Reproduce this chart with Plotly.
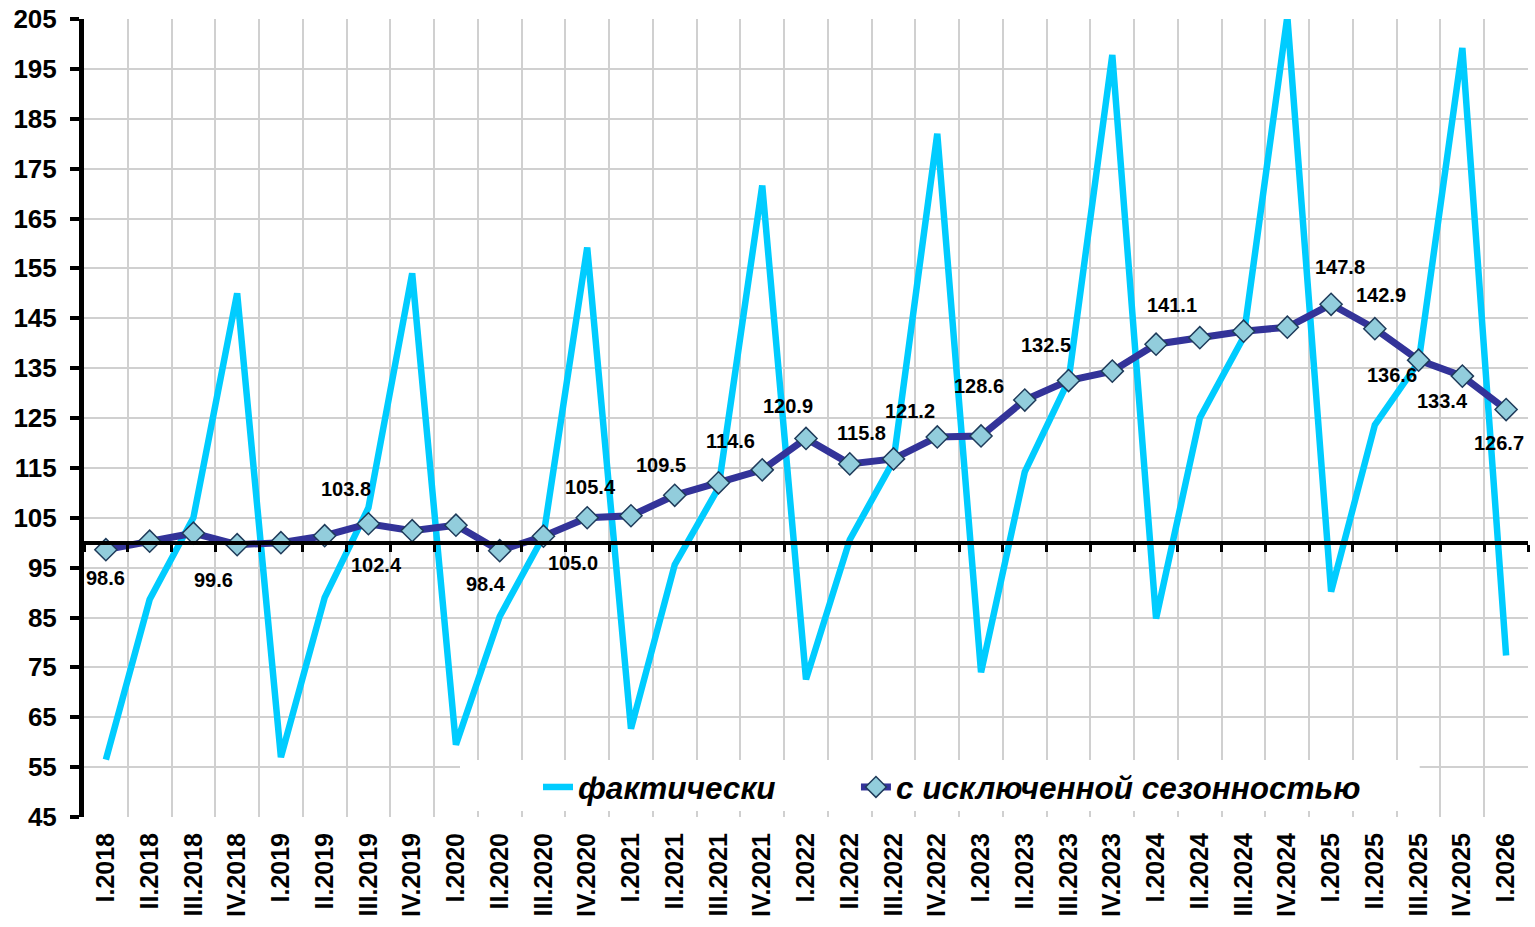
import plotly.graph_objects as go

quarters = ["I.2018", "II.2018", "III.2018", "IV.2018",
            "I.2019", "II.2019", "III.2019", "IV.2019",
            "I.2020", "II.2020", "III.2020", "IV.2020",
            "I.2021", "II.2021", "III.2021", "IV.2021",
            "I.2022", "II.2022", "III.2022", "IV.2022",
            "I.2023", "II.2023", "III.2023", "IV.2023",
            "I.2024", "II.2024", "III.2024", "IV.2024",
            "I.2025", "II.2025", "III.2025", "IV.2025",
            "I.2026"]

actual = [56.5, 88.6, 105.0, 150.0,
          57.0, 89.0, 107.0, 154.0,
          59.5, 85.2, 101.3, 159.2,
          62.7, 95.6, 111.0, 171.6,
          72.6, 100.6, 116.4, 182.0,
          74.0, 114.2, 132.5, 197.8,
          84.8, 125.0, 141.2, 205.5,
          90.2, 123.6, 136.2, 199.2,
          77.4]

seasonally_adj = [98.6, 100.3, 101.9, 99.6,
                  100.0, 101.4, 103.8, 102.4,
                  103.5, 98.4, 101.3, 105.0,
                  105.4, 109.5, 112.0, 114.6,
                  120.9, 115.8, 116.8, 121.2,
                  121.4, 128.6, 132.5, 134.4,
                  139.8, 141.1, 142.4, 143.2,
                  147.8, 142.9, 136.6, 133.4,
                  126.7]

# indices of points that carry a data label
labeled_idx = [0, 3, 6, 7, 9, 11, 12, 13, 15, 16, 17, 19, 21, 22, 25, 28, 29, 30, 31, 32]
# label offsets in pixels (styling)
label_dx = [0, -24, -22, -36, -14, -14, -40, -14, -32, -18, 12, -27, -46, -23, -28, 9, 6, -27, -20, -7]
label_dy = [-28, -35, 35, -34, -33, -45, 29, 30, 29, 32, 31, 26, 14, 36, 33, 37, 34, -15, -25, -33]

y_ticks = list(range(45, 206, 10))

fig = go.Figure()

fig.add_trace(go.Scatter(
    x=quarters, y=actual, mode="lines", name="фактически",
    line=dict(color="#00CCFF", width=6.5), legend="legend",
))
fig.add_trace(go.Scatter(
    x=quarters, y=seasonally_adj, mode="lines+markers",
    name="с исключенной сезонностью",
    line=dict(color="#333399", width=7),
    marker=dict(symbol="diamond", size=17, color="#92CDDC",
                line=dict(color="#1F3B5A", width=1.5)),
    legend="legend2",
))
# helper trace for the category axis drawn at the 100 level
fig.add_trace(go.Scatter(
    x=quarters, y=seasonally_adj, xaxis="x2", mode="lines",
    line=dict(width=0), opacity=0, showlegend=False, hoverinfo="skip",
))

for k, i in enumerate(labeled_idx):
    fig.add_annotation(
        x=quarters[i], y=seasonally_adj[i], text=f"{seasonally_adj[i]:.1f}",
        showarrow=False, xshift=label_dx[k], yshift=label_dy[k],
        font=dict(family="Arial", size=20, color="black", weight="bold"),
    )

# white background of the legend area
fig.add_shape(type="rect", xref="paper", yref="paper",
              x0=0.2604, x1=0.925, y0=0.0075, y1=0.0714,
              fillcolor="white", line=dict(width=0), layer="above")

legend_font = dict(family="Arial", size=31.5, color="black", weight="bold", style="italic")

y0, y1 = 45, 205
fig.update_layout(
    width=1535, height=927,
    margin=dict(l=84, r=7, t=19, b=110, autoexpand=False),
    paper_bgcolor="white", plot_bgcolor="white",
    font=dict(family="Arial", color="black"),
    xaxis=dict(
        type="category", range=[-0.5, len(quarters) - 0.5], automargin=False,
        tickson="boundaries", showgrid=True, gridcolor="#D0D0D0", gridwidth=1.5,
        ticks="", showline=False, tickangle=-90, ticklabelstandoff=10,
        tickfont=dict(family="Arial", size=25, color="black", weight="bold"),
    ),
    xaxis2=dict(
        type="category", overlaying="x", anchor="free", automargin=False,
        position=(100 - y0) / (y1 - y0), range=[-0.5, len(quarters) - 0.5],
        tickson="boundaries", showgrid=False, showticklabels=False,
        showline=True, linecolor="black", linewidth=4,
        ticks="outside", ticklen=7, tickwidth=3, tickcolor="black",
    ),
    yaxis=dict(
        range=[y0, y1], tickvals=y_ticks, showgrid=True, automargin=False,
        gridcolor="#D0D0D0", gridwidth=1.5, zeroline=False,
        showline=True, linecolor="black", linewidth=5,
        ticks="outside", ticklen=9, tickwidth=4, tickcolor="black",
        ticklabelstandoff=8,
        tickfont=dict(family="Arial", size=26, color="black", weight="bold"),
    ),
    legend=dict(
        orientation="h", x=0.3144, y=0.0376, xanchor="left", yanchor="middle",
        bgcolor="rgba(0,0,0,0)", borderwidth=0, font=legend_font,
    ),
    legend2=dict(
        orientation="h", x=0.5346, y=0.0376, xanchor="left", yanchor="middle",
        bgcolor="rgba(0,0,0,0)", borderwidth=0, font=legend_font,
    ),
)

fig.write_html("out.html", config={"displayModeBar": False},
               post_script="document.body.style.margin='0';")
